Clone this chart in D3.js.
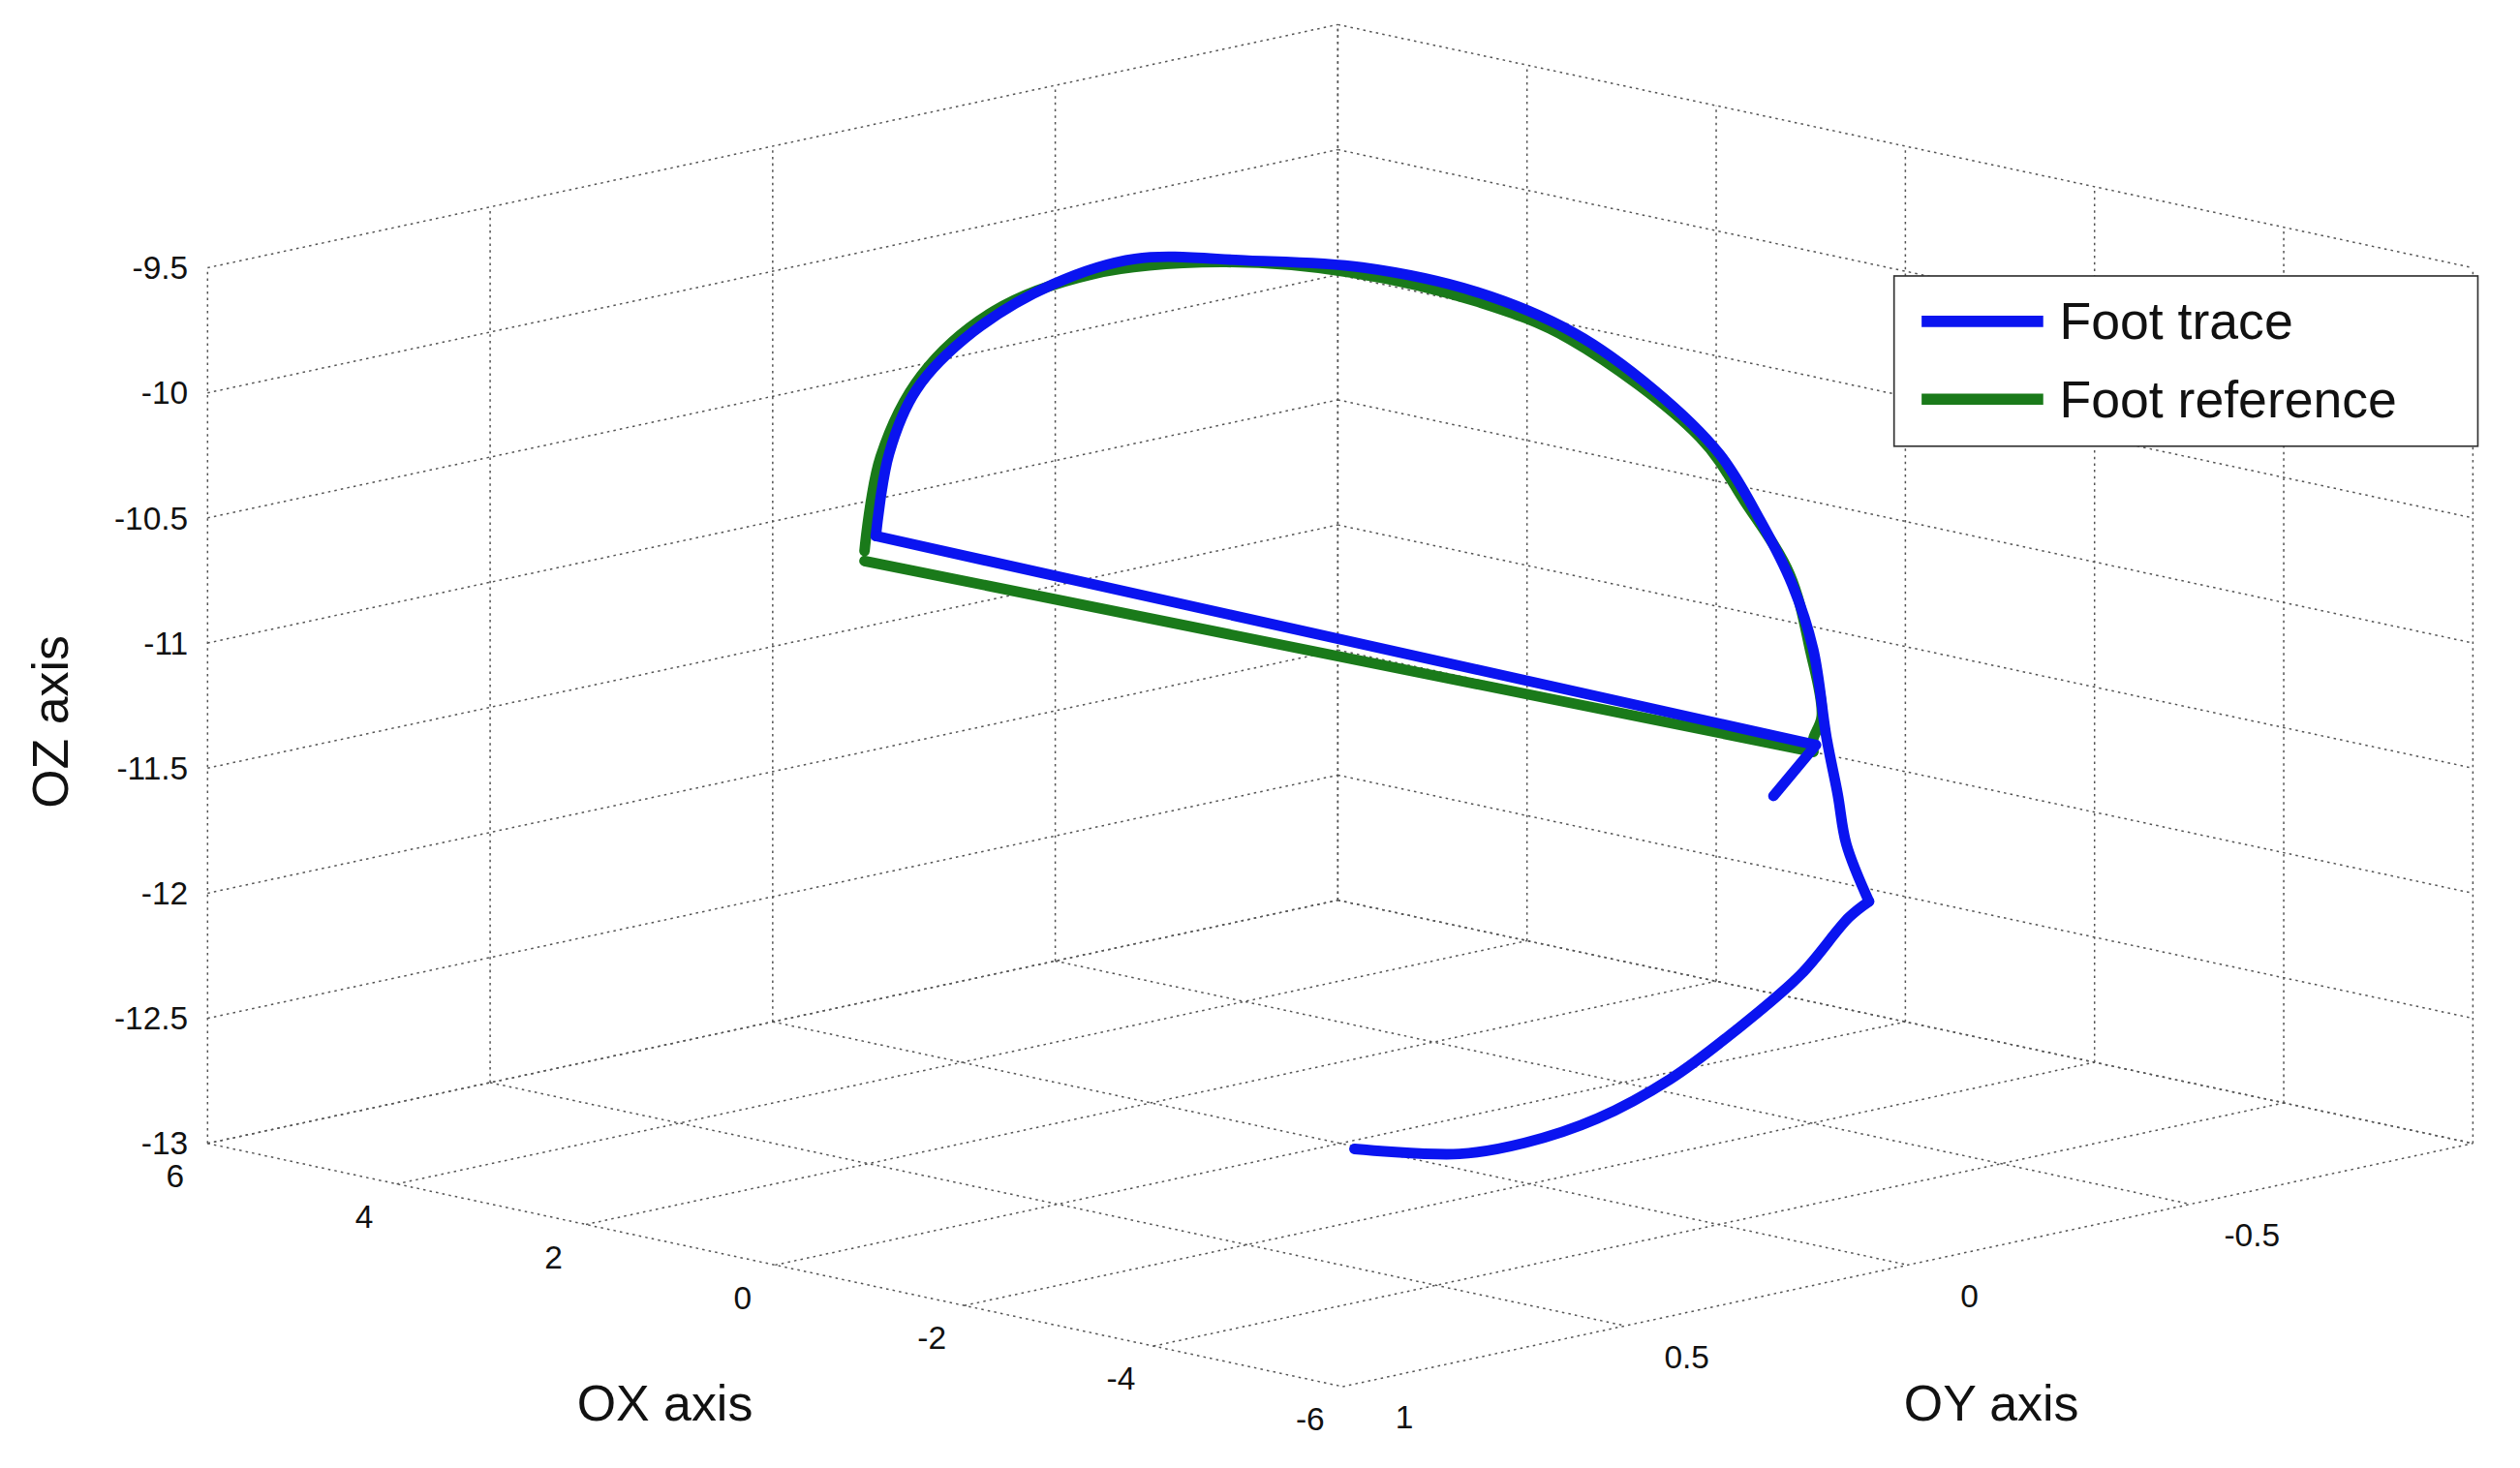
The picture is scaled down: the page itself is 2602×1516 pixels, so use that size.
<!DOCTYPE html>
<html><head><meta charset="utf-8">
<script src="https://cdn.jsdelivr.net/npm/d3@7"></script>
<style>html,body{margin:0;padding:0;background:#fff}</style>
</head><body>
<svg id="c" width="2602" height="1516" viewBox="0 0 1554 905"></svg>
<script>
const xTicks=[6,4,2,0,-2,-4,-6];
const yTicks=[1,0.5,0,-0.5,-1];
const yTickLabels=[1,0.5,0,-0.5];
const zTicks=[-13,-12.5,-12,-11.5,-11,-10.5,-10,-9.5];
const traceX=[-0.15,-1.26,-1.95,-2.72,-3.49,-4.18,-4.87,-5.38,-5.59,-5.35,-5.26,-5.14,-5.0,-4.78,-4.44,-4.01,-3.32,-2.47,-1.44,-0.23,0.97,2.17,3.03,3.88,4.48,4.77,4.91,-5.03,-4.58];
const traceZ=[-13.01,-12.94,-12.84,-12.68,-12.46,-12.21,-11.93,-11.66,-11.58,-11.37,-11.18,-10.96,-10.62,-10.38,-10.15,-9.92,-9.72,-9.56,-9.48,-9.48,-9.55,-9.64,-9.81,-10.07,-10.35,-10.63,-10.97,-11.0,-11.24];
const refX=[4.91,4.74,4.31,3.54,2.51,1.14,-0.23,-1.61,-2.55,-3.92,-4.40,-4.87,-5.09,-5.21,-5.12,-5.12,4.91];
const refZ=[-11.02,-10.63,-10.27,-9.95,-9.72,-9.56,-9.49,-9.50,-9.57,-9.85,-10.07,-10.32,-10.61,-10.86,-10.96,-11.01,-11.06];
const traceY=0, refY=0.02;

const svg=d3.select("#c");
const sx=d3.scaleLinear().domain([6,-6]).range([0,12]);
const sy=d3.scaleLinear().domain([-1,1]).range([0,2]);
const sz=d3.scaleLinear().domain([-13,-9.5]).range([0,3.5]);
const K=[825,555];
function P(x,y,z){const a=sx(x),b=sy(y),c=sz(z);
  return [K[0]+a*58.33-b*348.5, K[1]+a*12.5+b*75-c*154.3];}

const g=svg.append("g").attr("stroke","#555").attr("stroke-width",0.9).attr("stroke-dasharray","1.5,2.5").attr("fill","none");
const seg=(p,q)=>g.append("line").attr("x1",p[0]).attr("y1",p[1]).attr("x2",q[0]).attr("y2",q[1]);
zTicks.forEach(z=>seg(P(6,1,z),P(6,-1,z)));
yTicks.forEach(y=>seg(P(6,y,-13),P(6,y,-9.5)));
zTicks.forEach(z=>seg(P(6,-1,z),P(-6,-1,z)));
xTicks.forEach(x=>seg(P(x,-1,-13),P(x,-1,-9.5)));
xTicks.forEach(x=>seg(P(x,1,-13),P(x,-1,-13)));
yTicks.forEach(y=>seg(P(6,y,-13),P(-6,y,-13)));

const T=svg.append("g").attr("font-family","Arial, Liberation Sans, sans-serif").attr("fill","#111");
zTicks.forEach(z=>{const p=P(6,1,z);
  T.append("text").attr("x",p[0]-12).attr("y",p[1]+7).attr("text-anchor","end").attr("font-size",20).text(z);});
xTicks.forEach(x=>{const p=P(x,1,-13);
  T.append("text").attr("x",p[0]-20).attr("y",p[1]+27).attr("text-anchor","middle").attr("font-size",20).text(x);});
yTickLabels.forEach(y=>{const p=P(-6,y,-13);
  T.append("text").attr("x",p[0]+38).attr("y",p[1]+26).attr("text-anchor","middle").attr("font-size",20).text(y);});
T.append("text").attr("x",410).attr("y",876).attr("text-anchor","middle").attr("font-size",31).text("OX axis");
T.append("text").attr("x",1228).attr("y",876).attr("text-anchor","middle").attr("font-size",31).text("OY axis");
T.append("text").attr("transform","translate(42,445) rotate(-90)").attr("text-anchor","middle").attr("font-size",31).text("OZ axis");

const curve=d3.line().curve(d3.curveCatmullRom.alpha(0.5));
const lin=d3.line();
const refPts=refX.map((x,i)=>P(x,refY,refZ[i]));
const trPts=traceX.map((x,i)=>P(x,traceY,traceZ[i]));
function draw(d,c){svg.append("path").attr("d",d).attr("fill","none").attr("stroke",c).attr("stroke-width",6.5).attr("stroke-linejoin","round").attr("stroke-linecap","round");}
const G="#1a7a1a",B="#0a14f0";
draw(curve(refPts.slice(0,16)),G);
draw(lin(refPts.slice(15)),G);
draw(curve(trPts.slice(0,9)),B);
draw(curve(trPts.slice(8,27)),B);
draw(lin(trPts.slice(26)),B);

const L=svg.append("g");
L.append("rect").attr("x",1168).attr("y",170).attr("width",360).attr("height",105).attr("fill","#fff").attr("stroke","#333").attr("stroke-width",1);
[["Foot trace",B,198],["Foot reference",G,246]].forEach(([t,c,y])=>{
  L.append("line").attr("x1",1185).attr("x2",1260).attr("y1",y).attr("y2",y).attr("stroke",c).attr("stroke-width",7);
  L.append("text").attr("x",1270).attr("y",y+11).attr("font-family","Arial, Liberation Sans, sans-serif").attr("font-size",32).attr("fill","#111").text(t);});
</script></body></html>
